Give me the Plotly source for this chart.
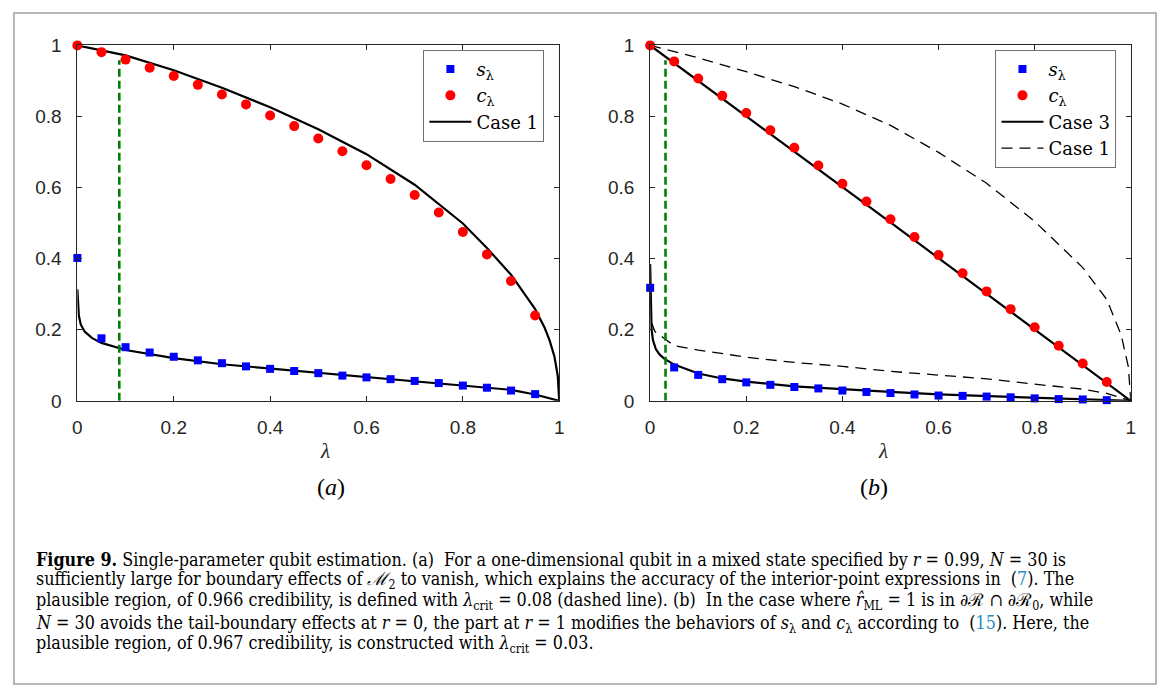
import plotly.graph_objects as go

W, H = 1171, 697

# ---------------- data ----------------
lam_pts = [0, 0.05, 0.1, 0.15, 0.2, 0.25, 0.3, 0.35, 0.4, 0.45,
           0.5, 0.55, 0.6, 0.65, 0.7, 0.75, 0.8, 0.85, 0.9, 0.95]

# panel (a)
c_a = [1.0, 0.981, 0.960, 0.937, 0.914, 0.889, 0.862, 0.834, 0.803, 0.773,
       0.738, 0.702, 0.663, 0.624, 0.579, 0.530, 0.475, 0.412, 0.337, 0.240]
s_a = [0.402, 0.176, 0.151, 0.136, 0.124, 0.114, 0.106, 0.097, 0.090, 0.084,
       0.078, 0.071, 0.066, 0.061, 0.056, 0.050, 0.043, 0.037, 0.029, 0.019]

case1_up_lam = [0, 0.1, 0.2, 0.3, 0.4, 0.5, 0.6, 0.7, 0.8, 0.85, 0.9, 0.95,
                0.97, 0.98, 0.99, 0.997, 1.0]
case1_up_a = [1.0, 0.972, 0.930, 0.881, 0.826, 0.764, 0.694, 0.608, 0.499,
              0.430, 0.355, 0.258, 0.205, 0.170, 0.125, 0.070, 0.0]
case1_lo_lam = [0, 0.001, 0.003, 0.007, 0.015, 0.03, 0.05, 0.1, 0.15, 0.2,
                0.3, 0.4, 0.5, 0.6, 0.7, 0.8, 0.9, 0.95, 0.98, 1.0]
case1_lo_a = [0.314, 0.270, 0.240, 0.215, 0.195, 0.177, 0.163, 0.143, 0.131,
              0.120, 0.103, 0.091, 0.079, 0.068, 0.057, 0.045, 0.031, 0.018,
              0.008, 0.0]
lam_crit_a = 0.087
crit_top_a = 0.958

# panel (b)
c_b = [1.0, 0.955, 0.907, 0.858, 0.810, 0.761, 0.712, 0.662, 0.611, 0.561,
       0.511, 0.461, 0.410, 0.359, 0.308, 0.258, 0.207, 0.155, 0.105, 0.053]
s_b = [0.318, 0.094, 0.073, 0.061, 0.052, 0.045, 0.039, 0.035, 0.029, 0.025,
       0.022, 0.018, 0.015, 0.014, 0.012, 0.010, 0.007, 0.005, 0.004, 0.002]

case3_up_lam = [0, 0.5, 1.0]
case3_up_b = [1.0, 0.502, 0.0]
case3_lo_lam = [0, 0.001, 0.003, 0.006, 0.012, 0.02, 0.03, 0.05, 0.1, 0.15,
                0.2, 0.3, 0.4, 0.5, 0.6, 0.7, 0.8, 0.9, 1.0]
case3_lo_b = [0.385, 0.260, 0.200, 0.170, 0.145, 0.130, 0.118, 0.102, 0.077,
              0.063, 0.054, 0.041, 0.032, 0.025, 0.018, 0.013, 0.008, 0.004,
              0.0]
case1_up_lam_b = [0, 0.1, 0.2, 0.3, 0.4, 0.5, 0.6, 0.7, 0.8, 0.85, 0.9, 0.95,
                  0.98, 0.995, 1.0]
case1_up_b = [1.0, 0.965, 0.926, 0.884, 0.835, 0.775, 0.699, 0.612, 0.505,
              0.440, 0.375, 0.285, 0.185, 0.095, 0.0]
case1_lo_lam_b = [0.003, 0.01, 0.03, 0.05, 0.1, 0.2, 0.3, 0.4, 0.5, 0.6, 0.7,
                  0.8, 0.9, 0.95, 1.0]
case1_lo_b = [0.220, 0.195, 0.175, 0.155, 0.143, 0.123, 0.108, 0.097, 0.083,
              0.073, 0.062, 0.047, 0.033, 0.021, 0.0]
lam_crit_b = 0.032
crit_top_b = 0.958

tick_vals = [0, 0.2, 0.4, 0.6, 0.8, 1]
tick_text = ["0", "0.2", "0.4", "0.6", "0.8", "1"]

caption_lines = [
    "<b>Figure 9.</b> Single-parameter qubit estimation. (a)  For a one-dimensional qubit in a mixed state specified by <i>r</i> = 0.99, <i>N</i> = 30 is",
    "sufficiently large for boundary effects of <span style='font-family:DejaVu Serif'><i>ℳ</i></span><sub>2</sub> to vanish, which explains the accuracy of the interior-point expressions in  (<span style='color:#2b8cc4'>7</span>). The",
    "plausible region, of 0.966 credibility, is defined with <i>λ</i><sub>crit</sub> = 0.08 (dashed line). (b)  In the case where <i>r̂</i><sub>ML</sub> = 1 is in ∂ℛ ∩ ∂ℛ<sub>0</sub>, while",
    "<i>N</i> = 30 avoids the tail-boundary effects at <i>r</i> = 0, the part at <i>r</i> = 1 modifies the behaviors of <i>s</i><sub>λ</sub> and <i>c</i><sub>λ</sub> according to  (<span style='color:#2b8cc4'>15</span>). Here, the",
    "plausible region, of 0.967 credibility, is constructed with <i>λ</i><sub>crit</sub> = 0.03.",
]
caption_y = [566.5, 588, 609.5, 633, 654]

# ---------------- styling ----------------
AX = "#262626"
SANS = "Liberation Sans, Arial, sans-serif"
SERIF = "Liberation Serif, Times New Roman, serif"
CAPF = "DejaVu Serif Condensed, Liberation Serif, serif"
LEGF = "DejaVu Serif, Liberation Serif, serif"
BLUE, RED, GREEN = "#0000ff", "#ff0000", "#008000"

fig = go.Figure()


def add_panel(xa, ya, legend, s, c, lines, crit, crit_top):
    for (lx, ly, dash, width, name, show, rank) in lines:
        fig.add_trace(go.Scatter(
            x=lx, y=ly, mode="lines", xaxis=xa, yaxis=ya,
            line=dict(color="black", width=width, dash=dash),
            name=name, showlegend=show, legend=legend, legendrank=rank,
            hoverinfo="skip"))
    fig.add_trace(go.Scatter(
        x=[crit, crit], y=[0, crit_top], mode="lines", xaxis=xa, yaxis=ya,
        line=dict(color=GREEN, width=2.6, dash="8px,4px"),
        showlegend=False, hoverinfo="skip"))
    fig.add_trace(go.Scatter(
        x=lam_pts, y=s, mode="markers", xaxis=xa, yaxis=ya,
        marker=dict(symbol="square", size=8, color=BLUE),
        name="<i>s</i><sub>λ</sub>", legend=legend, legendrank=1,
        cliponaxis=False))
    fig.add_trace(go.Scatter(
        x=lam_pts, y=c, mode="markers", xaxis=xa, yaxis=ya,
        marker=dict(symbol="circle", size=10, color=RED),
        name="<i>c</i><sub>λ</sub>", legend=legend, legendrank=2,
        cliponaxis=False))


add_panel("x", "y", "legend", s_a, c_a, [
    (case1_up_lam, case1_up_a, "solid", 2.2, "Case 1", True, 3),
    (case1_lo_lam, case1_lo_a, "solid", 2.2, "Case 1", False, 3),
], lam_crit_a, crit_top_a)

add_panel("x2", "y2", "legend2", s_b, c_b, [
    (case1_up_lam_b, case1_up_b, "11px,7px", 1.3, "Case 1", True, 4),
    (case1_lo_lam_b, case1_lo_b, "11px,7px", 1.3, "Case 1", False, 4),
    (case3_up_lam, case3_up_b, "solid", 2.2, "Case 3", True, 3),
    (case3_lo_lam, case3_lo_b, "solid", 2.2, "Case 3", False, 3),
], lam_crit_b, crit_top_b)

ydom = [1 - 403 / H, 1 - 36.5 / H]
axis_common = dict(
    range=[0, 1], showgrid=False, zeroline=False, showline=True,
    linecolor=AX, linewidth=1, mirror="ticks", ticks="inside", ticklen=5,
    tickwidth=1, tickcolor=AX, tickvals=tick_vals, ticktext=tick_text,
    tickfont=dict(family=SANS, size=19, color=AX), fixedrange=True,
)

legend_common = dict(
    font=dict(family=LEGF, size=18, color="black"),
    bgcolor="white", bordercolor="#707070", borderwidth=1,
    xanchor="left", yanchor="top", itemwidth=42, tracegroupgap=0,
)

fig.update_layout(
    width=W, height=H, autosize=False,
    margin=dict(l=0, r=0, t=0, b=0),
    paper_bgcolor="white", plot_bgcolor="white",
    xaxis=dict(domain=[73 / W, 559 / W], anchor="y", ticklabelstandoff=9,
               **axis_common),
    yaxis=dict(domain=ydom, anchor="x", ticklabelstandoff=11, **axis_common),
    xaxis2=dict(domain=[650.7 / W, 1135.5 / W], anchor="y2",
                ticklabelstandoff=9, **axis_common),
    yaxis2=dict(domain=ydom, anchor="x2", ticklabelstandoff=11,
                **axis_common),
    legend=dict(x=422 / W, y=1 - 41 / H, **legend_common),
    legend2=dict(x=999 / W, y=1 - 41 / H, **legend_common),
    showlegend=True,
)

# outer frame
fig.add_shape(type="rect", xref="paper", yref="paper",
              x0=9 / W, x1=1161 / W, y0=1 - 695 / H, y1=1 - 3 / H,
              line=dict(color="#a0a0a0", width=1.5), layer="below")

# axis titles and panel labels
for cx in [(73 + 559) / 2, (650.7 + 1135.5) / 2]:
    fig.add_annotation(x=cx / W, y=1 - 455 / H, xref="paper", yref="paper",
                       text="<i>λ</i>", showarrow=False,
                       font=dict(family=SERIF, size=21, color=AX))
for cx, lab in [(313, "(<i>a</i>)"), (893, "(<i>b</i>)")]:
    fig.add_annotation(x=cx / W, y=1 - 507 / H, xref="paper", yref="paper",
                       text=lab, showarrow=False,
                       font=dict(family=SERIF, size=24, color="black"))

# caption
for line, yc in zip(caption_lines, caption_y):
    fig.add_annotation(x=29 / W, y=1 - yc / H, xref="paper", yref="paper",
                       xanchor="left", yanchor="middle", text=line,
                       showarrow=False, align="left",
                       font=dict(family=CAPF, size=17.8, color="black"))

fig.write_html("out.html")
